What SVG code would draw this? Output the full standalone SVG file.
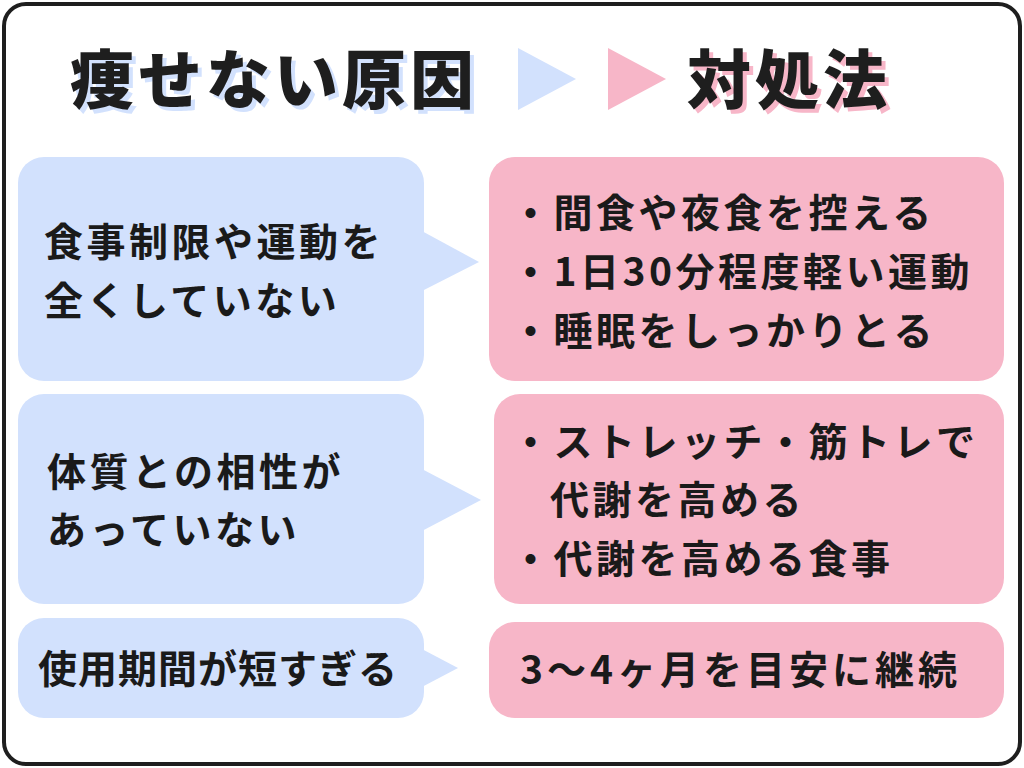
<svg xmlns="http://www.w3.org/2000/svg" width="1024" height="768" viewBox="0 0 1024 768">
<style>
.t{font-family:"Noto Sans CJK JP","Noto Sans",sans-serif;font-weight:700;fill:#1a1a1a;font-size:39px;letter-spacing:3.5px}
.h{font-family:"Noto Sans CJK JP","Noto Sans",sans-serif;font-weight:900;font-size:64px;letter-spacing:4px}
.b{fill:#d2e1fd}.p{fill:#f7b6c8}
</style>
<rect x="4" y="4" width="1016" height="760" rx="22" fill="#fff" stroke="#1e1e1e" stroke-width="4"/>
<g id="title">
<text class="h" x="74" y="107" fill="#d2e1fd">痩せない原因</text>
<text class="h" x="70" y="103" fill="#1e1e1e">痩せない原因</text>
<polygon class="b" points="518,48 576,79 518,110"/>
<polygon class="p" points="608,48 666,79 608,110"/>
<text class="h" x="691" y="107" fill="#f7b6c8">対処法</text>
<text class="h" x="687" y="103" fill="#1e1e1e">対処法</text>
</g>
<g id="cause1">
<rect class="b" x="18" y="157" width="406" height="224" rx="26"/>
<polygon class="b" points="420,230 479,262 420,292"/>
<text class="t" x="44" y="256">食事制限や運動を</text>
<text class="t" x="44" y="315">全くしていない</text>
</g>
<g id="cause2">
<rect class="b" x="18" y="394" width="406" height="210" rx="26"/>
<polygon class="b" points="420,468 481,500 420,532"/>
<text class="t" x="47" y="486">体質との相性が</text>
<text class="t" x="47" y="544">あっていない</text>
</g>
<g id="cause3">
<rect class="b" x="18" y="618" width="406" height="100" rx="26"/>
<polygon class="b" points="420,648 458,668 420,688"/>
<text class="t" x="38" y="683" style="letter-spacing:1px">使用期間が短すぎる</text>
</g>
<g id="sol1">
<rect class="p" x="489" y="157" width="515" height="224" rx="26"/>
<text class="t" x="511" y="227">・間食や夜食を控える</text>
<text class="t" x="511" y="286">・1日30分程度軽い運動</text>
<text class="t" x="511" y="345">・睡眠をしっかりとる</text>
</g>
<g id="sol2">
<rect class="p" x="494" y="394" width="510" height="210" rx="26"/>
<text class="t" x="511" y="456">・ストレッチ・筋トレで</text>
<text class="t" x="550" y="514">代謝を高める</text>
<text class="t" x="511" y="573">・代謝を高める食事</text>
</g>
<g id="sol3">
<rect class="p" x="489" y="622" width="515" height="96" rx="26"/>
<text class="t" x="520" y="684" style="letter-spacing:4px">3〜4ヶ月を目安に継続</text>
</g>
<g id="connectors"/>
</svg>
